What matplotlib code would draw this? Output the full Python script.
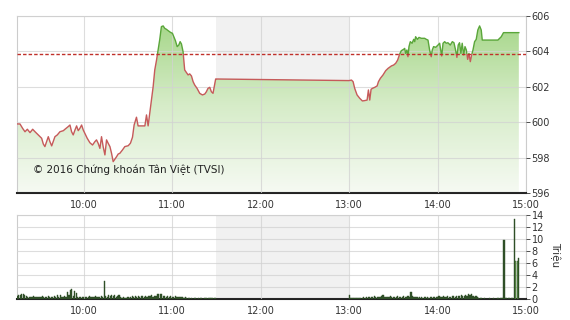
import numpy as np
import matplotlib
matplotlib.use("Agg")
import matplotlib.pyplot as plt
from matplotlib.colors import LinearSegmentedColormap
from matplotlib.patches import Polygon, Rectangle

# thoi gian tinh bang phut ke tu 9:00
am_time = [15, 16.8, 18.6, 20.2, 21.8, 23.6, 25.4, 27, 29.2, 31.5, 32.6, 33.7, 36, 37.1, 38.3,
           40.5, 42.1, 43.9, 46.2, 47.3, 49.5, 50.7, 51.8, 52.9, 54.1, 55.2, 56.3, 57.4, 58.6,
           59.7, 60.8, 62.4, 64.2, 66, 67.6, 68.7, 69.8, 71, 72.1, 73.2, 74.4, 75.5, 76.6, 77.8,
           78.9, 80, 81.1, 82.3, 83.4, 84.5, 86.3, 87.9, 90.2, 91.7, 93.1, 94.2, 95.8, 96.9,
           99.2, 101.5, 102.6, 103.7, 104.8, 106, 107.1, 108.2, 109.4, 110.5, 111.6, 112.7,
           113.9, 115, 116.1, 117.3, 118.8, 120.2, 121.1, 122.2, 123.4, 124.5, 125.4, 126.3,
           127.4, 128.5, 129.7, 130.8, 131.9, 133.1, 134.2, 135.3, 136.9, 138.7, 140.5, 142.1,
           143.2, 144.3, 145.5, 146.6, 147.7, 148.9, 149.5, 150]
am_price = [599.90, 599.90, 599.65, 599.46, 599.60, 599.41, 599.60, 599.46, 599.28, 599.09,
            598.77, 598.62, 599.18, 598.90, 598.66, 599.18, 599.28, 599.46, 599.52, 599.60,
            599.75, 599.84, 599.46, 599.28, 599.56, 599.79, 599.52, 599.65, 599.84, 599.56,
            599.37, 599.09, 598.84, 598.71, 598.90, 599.00, 598.81, 598.52, 599.18, 598.62,
            598.15, 599.00, 598.81, 598.62, 598.24, 597.77, 597.90, 598.05, 598.20, 598.24,
            598.43, 598.62, 598.67, 598.81, 599.15, 599.84, 600.28, 599.79, 599.79, 599.79,
            600.41, 599.79, 600.50, 601.25, 602.00, 602.95, 603.51, 604.08, 604.68, 605.40,
            605.44, 605.30, 605.25, 605.17, 605.08, 605.02, 604.83, 604.61, 604.27, 604.36,
            604.55, 604.42, 603.98, 602.95, 602.80, 602.67, 602.73, 602.61, 602.29, 602.10,
            601.91, 601.63, 601.54, 601.59, 601.72, 601.91, 601.97, 601.72, 601.63, 602.19,
            602.44, 602.44]
pm_time = [240, 241.6, 242.7, 243.8, 245.4, 247.2, 249, 250.6, 252.2, 253.1, 254, 254.9, 255.8,
           257.4, 259, 259.9, 261.2, 263, 264.8, 266.4, 268.7, 270.2, 271.6, 272.9, 274.3, 275.4,
           277, 277.7, 278.3, 279.2, 279.9, 280.6, 281.5, 282.7, 283.8, 284.5, 285.1, 286.3,
           287.4, 289, 291.2, 292.4, 293.5, 294.6, 295.7, 296.4, 297.3, 298.7, 300.3, 301.4,
           302.8, 303.7, 304.8, 305.9, 307, 308.6, 310, 311.1, 312.2, 313.1, 314, 314.9, 315.8,
           316.7, 317.7, 318.6, 319.5, 320.4, 321.3, 322.2, 323.1, 324, 325.1, 326.2, 327.3,
           328.5, 329.6, 330.3, 340.9, 343.2, 344.7, 355.1]
pm_price = [602.35, 602.38, 602.29, 601.91, 601.54, 601.35, 601.20, 601.22, 601.25, 601.82,
            601.25, 601.86, 601.91, 601.97, 602.05, 602.29, 602.48, 602.67, 602.91, 603.04,
            603.18, 603.23, 603.33, 603.51, 603.85, 604.04, 604.12, 604.17, 603.89, 604.08,
            603.70, 604.27, 604.55, 604.46, 604.68, 604.55, 604.83, 604.68, 604.79, 604.74,
            604.74, 604.68, 604.64, 604.08, 603.70, 604.08, 604.27, 604.23, 604.36, 604.46,
            603.74, 604.46, 604.55, 604.46, 604.49, 604.36, 604.55, 604.49, 604.08, 603.66,
            604.36, 604.49, 603.89, 604.46, 603.80, 604.27, 604.08, 603.55, 603.89, 603.42,
            603.80, 604.08, 604.55, 604.68, 605.21, 605.44, 605.21, 604.64, 604.64, 604.83,
            605.06, 605.06]
ref_price = 603.84

# khoi luong (trieu) moi phut, 9:15 - 11:29 va 13:00 - 14:55
am_vol = [0.5, 0.7, 0.6, 0.8, 0.9, 0.7, 0.5, 0.4, 0.35, 0.4, 0.3, 0.45, 0.35, 0.3, 0.4,
          0.35, 0.3, 0.45, 0.4, 0.3, 0.35, 0.5, 0.4, 0.3, 0.35, 0.45, 0.3, 0.7, 0.4, 0.75,
          0.3, 0.4, 0.5, 0.35, 1.2, 0.6, 1.5, 1.7, 0.5, 1.4, 1.0, 0.4, 0.35, 0.3, 0.4,
          0.3, 0.35, 0.4, 0.3, 0.45, 0.35, 0.3, 0.4, 0.5, 0.35, 0.4, 0.3, 0.45, 0.4, 3.05,
          0.5, 0.4, 0.6, 0.5, 0.7, 0.45, 0.6, 0.4, 0.5, 0.65, 0.3, 0.25, 0.3, 0.2, 0.25,
          0.3, 0.25, 0.3, 0.45, 0.4, 0.5, 0.35, 0.55, 0.4, 0.45, 0.5, 0.3, 0.55, 0.4, 0.5,
          0.45, 0.6, 0.4, 0.5, 0.55, 0.85, 0.9, 0.8, 0.85, 0.5, 0.45, 0.4, 0.5, 0.35, 0.45,
          0.4, 0.35, 0.45, 0.3, 0.4, 0.35, 0.3, 0.4, 0.25, 0.3, 0.15, 0.1, 0.15, 0.1, 0.0,
          0.15, 0.1, 0.0, 0.15, 0.1, 0.1, 0.0, 0.15, 0.1, 0.0, 0.15, 0.1, 0.1, 0.0, 0.1]
pm_vol = [0.65, 0.15, 0.1, 0.15, 0.1, 0.15, 0.2, 0.15, 0.1, 0.2, 0.3, 0.25, 0.35, 0.3, 0.4,
          0.35, 0.3, 0.45, 0.3, 0.35, 0.4, 0.3, 0.45, 0.6, 0.35, 0.4, 0.3, 0.35, 0.5, 0.4,
          0.35, 0.4, 0.3, 0.45, 0.35, 0.3, 0.4, 0.5, 0.35, 0.3, 0.45, 0.4, 1.2, 0.5, 0.3,
          0.35, 0.3, 0.25, 0.3, 0.35, 0.25, 0.3, 0.35, 0.3, 0.25, 0.3, 0.35, 0.3, 0.4, 0.3,
          0.35, 0.5, 0.4, 0.3, 0.45, 0.35, 0.3, 0.5, 0.4, 0.35, 0.45, 0.5, 0.4, 0.55, 0.45,
          0.5, 0.6, 0.45, 0.55, 0.6, 0.5, 0.85, 0.7, 0.8, 0.5, 0.4, 0.55, 0.3, 0.2, 0.1,
          0.1, 0.0, 0.1, 0.0, 0.05, 0.1, 0.0, 0.0, 0.1, 0.0, 0.05, 0.1, 0.0, 0.15, 0.1,
          9.9, 0.15, 0.1, 0.2, 0.15, 0.1, 0.2, 13.3, 6.3, 6.4, 6.9]

hour_ticks = [60, 120, 180, 240, 300, 360]
hour_labels = ["10:00", "11:00", "12:00", "13:00", "14:00", "15:00"]
price_ticks = [596, 598, 600, 602, 604, 606]
vol_ticks = [0, 2, 4, 6, 8, 10, 12, 14]

x0, x1 = 15, 360
lunch = (150, 240)
grid_c = "#d2d2d2"
txt_c = "#333333"

fig = plt.figure(figsize=(5.7, 3.2), dpi=100)
ax = fig.add_axes([0.0304, 0.397, 0.8925, 0.553])
vax = fig.add_axes([0.0304, 0.0656, 0.8925, 0.2625])

t = np.array(am_time + pm_time)
p = np.array(am_price + pm_price)

for a in (ax, vax):
    a.set_xlim(x0, x1)
    a.axvspan(lunch[0], lunch[1], color="#f1f1f1", zorder=0, lw=0)
    a.set_xticks(hour_ticks)
    a.set_xticklabels(hour_labels)
    a.set_axisbelow(False)
    a.grid(True, color=grid_c, lw=0.8, alpha=0.75, zorder=2)
    a.yaxis.tick_right()
    a.tick_params(axis="x", length=0, labelsize=7, colors=txt_c, pad=5)
    a.tick_params(axis="y", length=3, labelsize=7, colors=txt_c, pad=1, width=0.6)
    for s in ("top", "left", "right"):
        a.spines[s].set_color("#cccccc")
        a.spines[s].set_linewidth(0.8)
    a.spines["bottom"].set_color("#222222")
    a.spines["bottom"].set_linewidth(1.5)

# gia
ax.set_ylim(596, 606)
ax.set_yticks(price_ticks)

# vung to mau gradient
cmap = LinearSegmentedColormap.from_list("g", ["#f6faf3", "#d6ecc8", "#a3d585"])
grad = np.linspace(0, 1, 256).reshape(-1, 1)
im = ax.imshow(grad, extent=[x0, x1, 596, 606], origin="lower", aspect="auto",
               cmap=cmap, zorder=1)
poly = Polygon(np.column_stack([np.r_[t, t[-1], t[0]], np.r_[p, 596, 596]]),
               closed=True, facecolor="none", edgecolor="none")
ax.add_patch(poly)
im.set_clip_path(poly)

# duong gia: xanh tren tham chieu, do duoi tham chieu
up, = ax.plot(t, p, color="#5aa63a", lw=1.0, zorder=3)
dn, = ax.plot(t, p, color="#c65a5a", lw=1.0, zorder=3)
r_up = Rectangle((x0, ref_price), x1 - x0, 10, transform=ax.transData)
r_dn = Rectangle((x0, 590), x1 - x0, ref_price - 590, transform=ax.transData)
up.set_clip_path(r_up)
dn.set_clip_path(r_dn)

ax.axhline(ref_price, color="#c0302a", lw=1.0, ls=(0, (2.5, 1.5)), zorder=4)

ax.text(0.031, 0.13, "© 2016 Chứng khoán Tân Việt (TVSI)", transform=ax.transAxes,
        fontsize=7.5, color="#222222", va="center", ha="left", zorder=5)

# khoi luong
vt = np.r_[np.arange(len(am_vol)) + 15, np.arange(len(pm_vol)) + 240]
vv = np.array(am_vol + pm_vol)
cols = ["#6aa84f" if 6 < v < 6.6 else "#2f4f27" for v in vv]
vax.bar(vt, vv, width=0.8, color=cols, edgecolor="#2f4f27", lw=0.3, zorder=3)
vax.set_ylim(0, 14)
vax.set_yticks(vol_ticks)

fig.text(0.974, 0.205, "Triệu", rotation=-90, fontsize=7.5, color=txt_c,
         ha="center", va="center")

fig.savefig("out.png", dpi=100)
